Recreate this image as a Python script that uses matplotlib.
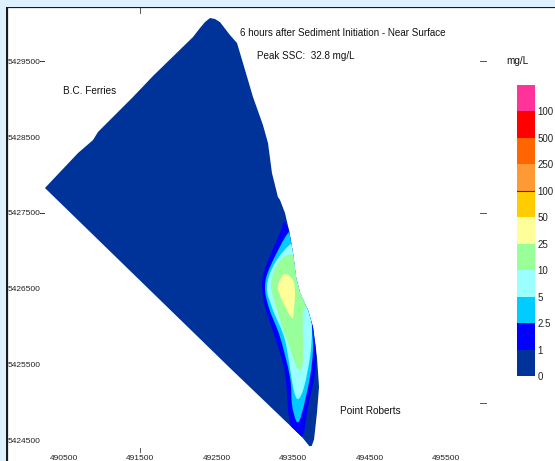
import matplotlib
matplotlib.use('Agg')
import matplotlib.pyplot as plt
from matplotlib.patches import PathPatch, Rectangle
from matplotlib.path import Path

plt.rcParams['font.family'] = ['Liberation Sans', 'DejaVu Sans']

# Contour regions (UTM easting / northing)
domain_x = [490258, 490690, 490886, 490951, 491408, 491670, 492193, 492284, 492350, 492415, 492480, 492545, 492676,
            492768, 492846, 492977, 493107, 493173, 493225, 493303, 493330, 493395, 493447, 493500, 493539,
            493591, 493696, 493761, 493813, 493840, 493813, 493775, 493745, 493715, 493617, 492676]
domain_y = [5427829, 5428289, 5428460, 5428566, 5429026, 5429303, 5429816, 5429934, 5430013, 5430066, 5430053, 5430013,
            5429842, 5429737, 5429474, 5429026, 5428658, 5428421, 5428026, 5427710, 5427671, 5427500, 5427276,
            5426973, 5426658, 5426447, 5426223, 5426000, 5425605, 5425210, 5424868, 5424520, 5424435, 5424430,
            5424552, 5425460]

level1_x = [493447, 493382, 493330, 493160, 493094, 493134, 493264, 493395, 493460, 493617, 493696,
            493787, 493800, 493790, 493740, 493650, 493600, 493560]
level1_y = [5427276, 5427381, 5427237, 5426842, 5426579, 5426263, 5425868, 5425394, 5424736, 5424552, 5424947,
            5425394, 5425697, 5426000, 5426223, 5426447, 5426658, 5426973]

level2_x = [493447, 493199, 493134, 493186, 493330, 493460, 493487, 493552, 493617, 493722, 493761,
            493748, 493730, 493640, 493590, 493540]
level2_y = [5427250, 5426789, 5426526, 5426249, 5425868, 5425341, 5424973, 5424749, 5424868, 5425341, 5425697,
            5426000, 5426184, 5426513, 5426881, 5427105]

level5_x = [493500, 493264, 493160, 493238, 493395, 493500, 493565, 493644, 493722, 493748, 493720, 493630, 493580]
level5_y = [5427105, 5426842, 5426526, 5426223, 5425828, 5425210, 5425052, 5425210, 5425605, 5425960, 5426157,
            5426513, 5426881]

level10_x = [493510, 493330, 493212, 493290, 493434, 493565, 493630, 493630, 493722, 493640, 493590]
level10_y = [5426947, 5426881, 5426579, 5426223, 5425789, 5425447, 5425565, 5426184, 5426289, 5426513, 5426750]

level25_x = [493395, 493330, 493303, 493356, 493487, 493513, 493526, 493500]
level25_y = [5426697, 5426618, 5426513, 5426355, 5426118, 5426263, 5426447, 5426618]

x_ticks = [490500, 491500, 492500, 493500, 494500, 495500]
y_ticks = [5429500, 5428500, 5427500, 5426500, 5425500, 5424500]

scale_labels = ['0', '1', '2.5', '5', '10', '25', '50', '100', '250', '500', '100']
scale_colors = ['#003399', '#0000FF', '#00CCFF', '#99FFFF', '#99FF99', '#FFFF99',
                '#FFCC00', '#FF9933', '#FF6600', '#FF0000', '#FF3399']


# closed curve through the read points, so the contours aren't faceted
def smooth_path(xs, ys):
    n = len(xs)
    verts = [(xs[0], ys[0])]
    codes = [Path.MOVETO]
    for i in range(n):
        p0 = (xs[i - 1], ys[i - 1])
        p1 = (xs[i], ys[i])
        p2 = (xs[(i + 1) % n], ys[(i + 1) % n])
        p3 = (xs[(i + 2) % n], ys[(i + 2) % n])
        c1 = (p1[0] + (p2[0] - p0[0]) / 6, p1[1] + (p2[1] - p0[1]) / 6)
        c2 = (p2[0] - (p3[0] - p1[0]) / 6, p2[1] - (p3[1] - p1[1]) / 6)
        verts += [c1, c2, p2]
        codes += [Path.CURVE4] * 3
    return Path(verts, codes)


W, H = 555, 461
fig = plt.figure(figsize=(W / 100, H / 100), dpi=100, facecolor='white')

# light blue page border on the top and left
fig.patches.append(Rectangle((0, 0), 6 / W, 1, transform=fig.transFigure, color='#DDF1FF', lw=0))
fig.patches.append(Rectangle((0, 1 - 7 / H), 1, 7 / H, transform=fig.transFigure, color='#DDF1FF', lw=0))

ax = fig.add_axes([7 / W, 0, 548 / W, 454 / H])
ax.set_xlim(489762, 496924)
ax.set_ylim(5424236, 5430211)

domain = ax.fill(domain_x, domain_y, color=scale_colors[0], lw=0)[0]
regions = [(level1_x, level1_y), (level2_x, level2_y), (level5_x, level5_y),
           (level10_x, level10_y), (level25_x, level25_y)]
for i, (rx, ry) in enumerate(regions):
    patch = PathPatch(smooth_path(rx, ry), facecolor=scale_colors[i + 1], lw=0)
    ax.add_patch(patch)
    patch.set_clip_path(domain)

for s in ['right', 'bottom']:
    ax.spines[s].set_visible(False)
for s in ['left', 'top']:
    ax.spines[s].set_color('#1a1a1a')
    ax.spines[s].set_linewidth(1.6)

ax.set_xticks(x_ticks)
ax.set_xticklabels([str(v) for v in x_ticks])
ax.set_yticks(y_ticks)
ax.set_yticklabels([str(v) for v in y_ticks])
ax.tick_params(axis='x', length=0, pad=-4.5, labelsize=6, labelcolor='#222222')
ax.tick_params(axis='y', length=0, pad=-24, labelsize=6, labelcolor='#222222')

# the few tick dashes that survive in the picture
for y in [5429500, 5427500]:
    ax.plot([490192, 490245], [y, y], color='#333333', lw=0.7)
for y in [5429500, 5427500, 5425000]:
    ax.plot([495944, 496022], [y, y], color='#555555', lw=0.7)
ax.plot([491500, 491500], [5430198, 5430132], color='#555555', lw=0.7)
ax.plot([491500, 491500], [5424407, 5424354], color='#555555', lw=0.7)

ax.text(490494, 5429105, 'B.C. Ferries', fontsize=7.2, va='center', color='#111111')
ax.text(494114, 5424894, 'Point Roberts', fontsize=7.2, va='center', color='#111111')
ax.text(492807, 5429868, '6 hours after Sediment Initiation - Near Surface', fontsize=7.15, va='center', color='#111111')
ax.text(493029, 5429566, 'Peak SSC:  32.8 mg/L', fontsize=7.15, va='center', color='#111111')
ax.text(496283, 5429500, 'mg/L', fontsize=7.2, va='center', color='#111111')

# colour scale
cax = fig.add_axes([517 / W, 1 - 376 / H, 18 / W, 291 / H])
cax.bar([0] * len(scale_colors), [1] * len(scale_colors), bottom=range(len(scale_colors)),
        width=1, color=scale_colors, lw=0)
cax.set_xlim(-0.5, 0.5)
cax.set_ylim(0, len(scale_colors))
cax.axhline(scale_labels.index('100'), color='#553300', lw=0.8)
cax.set_xticks([])
cax.set_yticks(range(len(scale_labels)))
cax.set_yticklabels(scale_labels)
cax.yaxis.tick_right()
cax.tick_params(axis='y', length=0, pad=2, labelsize=7, labelcolor='#222222')
for s in cax.spines.values():
    s.set_visible(False)

fig.savefig('out.png', dpi=100)
